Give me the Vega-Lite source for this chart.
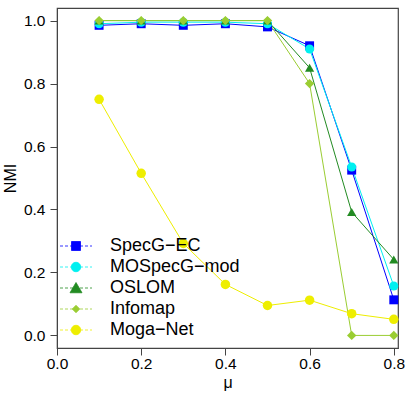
{
  "$schema": "https://vega.github.io/schema/vega-lite/v6.json",
  "width": 341,
  "height": 340,
  "autosize": "none",
  "padding": {"left": 57, "top": 8, "right": 9, "bottom": 59},
  "background": "white",
  "config": {
    "font": "Liberation Sans",
    "view": {"stroke": "#444", "strokeWidth": 1.2},
    "axis": {"grid": false, "domainColor": "#444", "tickColor": "#444", "tickSize": 7, "labelFontSize": 15.5, "titleFontSize": 16, "labelColor": "black", "titleColor": "black", "titleFontWeight": "normal"}
  },
  "data": {"values": [
    {"s": "SpecG-EC", "o": 0, "mu": 0.1, "nmi": 0.985},
    {"s": "SpecG-EC", "o": 0, "mu": 0.2, "nmi": 0.99},
    {"s": "SpecG-EC", "o": 0, "mu": 0.3, "nmi": 0.985},
    {"s": "SpecG-EC", "o": 0, "mu": 0.4, "nmi": 0.99},
    {"s": "SpecG-EC", "o": 0, "mu": 0.5, "nmi": 0.98},
    {"s": "SpecG-EC", "o": 0, "mu": 0.6, "nmi": 0.92},
    {"s": "SpecG-EC", "o": 0, "mu": 0.7, "nmi": 0.525},
    {"s": "SpecG-EC", "o": 0, "mu": 0.8, "nmi": 0.113},
    {"s": "MOSpecG-mod", "o": 1, "mu": 0.1, "nmi": 0.99},
    {"s": "MOSpecG-mod", "o": 1, "mu": 0.2, "nmi": 0.995},
    {"s": "MOSpecG-mod", "o": 1, "mu": 0.3, "nmi": 0.995},
    {"s": "MOSpecG-mod", "o": 1, "mu": 0.4, "nmi": 0.995},
    {"s": "MOSpecG-mod", "o": 1, "mu": 0.5, "nmi": 0.99},
    {"s": "MOSpecG-mod", "o": 1, "mu": 0.6, "nmi": 0.91},
    {"s": "MOSpecG-mod", "o": 1, "mu": 0.7, "nmi": 0.535},
    {"s": "MOSpecG-mod", "o": 1, "mu": 0.8, "nmi": 0.157},
    {"s": "OSLOM", "o": 2, "mu": 0.1, "nmi": 1.0},
    {"s": "OSLOM", "o": 2, "mu": 0.2, "nmi": 1.0},
    {"s": "OSLOM", "o": 2, "mu": 0.3, "nmi": 1.0},
    {"s": "OSLOM", "o": 2, "mu": 0.4, "nmi": 1.0},
    {"s": "OSLOM", "o": 2, "mu": 0.5, "nmi": 1.0},
    {"s": "OSLOM", "o": 2, "mu": 0.6, "nmi": 0.85},
    {"s": "OSLOM", "o": 2, "mu": 0.7, "nmi": 0.392},
    {"s": "OSLOM", "o": 2, "mu": 0.8, "nmi": 0.241},
    {"s": "Infomap", "o": 3, "mu": 0.1, "nmi": 1.0},
    {"s": "Infomap", "o": 3, "mu": 0.2, "nmi": 1.0},
    {"s": "Infomap", "o": 3, "mu": 0.3, "nmi": 1.0},
    {"s": "Infomap", "o": 3, "mu": 0.4, "nmi": 1.0},
    {"s": "Infomap", "o": 3, "mu": 0.5, "nmi": 1.0},
    {"s": "Infomap", "o": 3, "mu": 0.6, "nmi": 0.80},
    {"s": "Infomap", "o": 3, "mu": 0.7, "nmi": 0.0},
    {"s": "Infomap", "o": 3, "mu": 0.8, "nmi": 0.0},
    {"s": "Moga-Net", "o": 4, "mu": 0.1, "nmi": 0.75},
    {"s": "Moga-Net", "o": 4, "mu": 0.2, "nmi": 0.515},
    {"s": "Moga-Net", "o": 4, "mu": 0.3, "nmi": 0.292},
    {"s": "Moga-Net", "o": 4, "mu": 0.4, "nmi": 0.162},
    {"s": "Moga-Net", "o": 4, "mu": 0.5, "nmi": 0.095},
    {"s": "Moga-Net", "o": 4, "mu": 0.6, "nmi": 0.112},
    {"s": "Moga-Net", "o": 4, "mu": 0.7, "nmi": 0.069},
    {"s": "Moga-Net", "o": 4, "mu": 0.8, "nmi": 0.051}
  ]},
  "encoding": {
    "x": {"field": "mu", "type": "quantitative", "scale": {"domain": [0, 0.81], "nice": false, "zero": false},
      "axis": {"values": [0, 0.2, 0.4, 0.6, 0.8], "format": ".1f", "title": "μ", "titlePadding": 3, "labelPadding": 1, "labelFlush": false}},
    "y": {"field": "nmi", "type": "quantitative", "scale": {"domain": [-0.04, 1.04], "nice": false, "zero": false},
      "axis": {"values": [0, 0.2, 0.4, 0.6, 0.8, 1.0], "format": ".1f", "title": "NMI", "titlePadding": 5, "labelPadding": 5, "labelFlush": false}},
    "color": {"field": "s", "type": "nominal",
      "scale": {"domain": ["SpecG-EC", "MOSpecG-mod", "OSLOM", "Infomap", "Moga-Net"], "range": ["#0000FF", "#00F0F0", "#228B22", "#9ACD32", "#EEEE00"]},
      "legend": {"orient": "none", "legendX": 10, "legendY": 229, "title": null, "labelFontSize": 18, "labelFont": "Liberation Sans", "labelColor": "black", "rowPadding": 3, "symbolSize": 100, "labelOffset": 25, "symbolOpacity": 1,
        "labelExpr": "replace(datum.label, '-', '\u2212')",
        "encode": {"symbols": {"update": {
          "size": {"value": 100},
          "fill": {"scale": "color", "field": "value"},
          "stroke": {"scale": "color", "field": "value"},
          "strokeWidth": {"value": 0.8},
          "opacity": {"value": 1},
          "shape": {"signal": "datum.value === 'SpecG-EC' ? 'M-3.2,0H-2.6M-2.2,0H-1.6M-1.2,0H-0.6M-0.2,0H0.4M0.8,0H1.4M1.8,0H2.4M2.8,0H3.2M-0.9,-0.9H0.9V0.9H-0.9Z' : datum.value === 'OSLOM' ? 'M-3.2,0H-2.6M-2.2,0H-1.6M-1.2,0H-0.6M-0.2,0H0.4M0.8,0H1.4M1.8,0H2.4M2.8,0H3.2M0,-1.1L1.2,0.95L-1.2,0.95Z' : datum.value === 'Infomap' ? 'M-3.2,0H-2.6M-2.2,0H-1.6M-1.2,0H-0.6M-0.2,0H0.4M0.8,0H1.4M1.8,0H2.4M2.8,0H3.2M0,-0.75L0.75,0L0,0.75L-0.75,0Z' : 'M-3.2,0H-2.6M-2.2,0H-1.6M-1.2,0H-0.6M-0.2,0H0.4M0.8,0H1.4M1.8,0H2.4M2.8,0H3.2M-0.95,0A0.95,0.95 0 1,0 0.95,0A0.95,0.95 0 1,0 -0.95,0Z'"}
        }}}}}
  },
  "layer": [
    {"mark": {"type": "line", "strokeWidth": 1, "opacity": 1}, "encoding": {"detail": {"field": "s"}, "order": {"field": "mu"}}},
    {"mark": {"type": "point", "filled": true, "opacity": 1},
      "encoding": {
        "shape": {"field": "o", "type": "nominal", "legend": null, "scale": {"domain": [0, 1, 2, 3, 4], "range": ["square", "circle", "triangle-up", "diamond", "circle"]}},
        "size": {"field": "o", "type": "nominal", "legend": null, "scale": {"domain": [0, 1, 2, 3, 4], "range": [80, 90, 110, 45, 90]}},
        "order": {"field": "o"}
      }}
  ]
}
